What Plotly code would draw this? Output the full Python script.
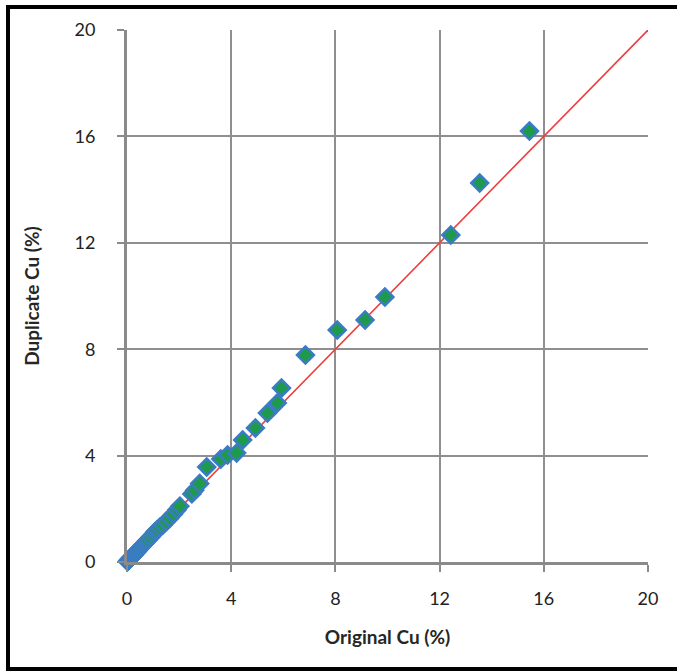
import plotly.graph_objects as go

original_cu = [0.02, 0.03, 0.05, 0.06, 0.08, 0.10, 0.12, 0.15, 0.18, 0.20, 0.24, 0.28, 0.32, 0.36,
               0.42, 0.48, 0.55, 0.61, 0.68, 0.75, 0.80, 0.90, 1.00, 1.07, 1.15, 1.25, 1.38, 1.50,
               1.64, 1.78, 1.92, 2.03, 2.49, 2.60, 2.79, 3.06, 3.60, 3.86, 4.21, 4.44, 4.93, 5.39,
               5.77, 5.93, 6.85, 8.07, 9.14, 9.90, 12.43, 13.54, 15.45]
duplicate_cu = [0.02, 0.04, 0.05, 0.07, 0.08, 0.11, 0.12, 0.16, 0.18, 0.21, 0.25, 0.28, 0.33, 0.37,
                0.43, 0.50, 0.57, 0.64, 0.70, 0.78, 0.83, 0.93, 1.03, 1.13, 1.20, 1.30, 1.39, 1.52,
                1.65, 1.80, 1.96, 2.10, 2.56, 2.70, 2.95, 3.57, 3.87, 4.02, 4.10, 4.59, 5.04, 5.60,
                5.98, 6.54, 7.78, 8.72, 9.10, 9.96, 12.29, 14.25, 16.20]
line_x = [0, 20]
line_y = [0, 20]
tick_vals = [0, 4, 8, 12, 16, 20]

W, H = 677, 671
L, R, T, B = 127, 29, 30, 109
pw, ph = W - L - R, H - T - B

def px(x):
    return (x - L) / pw

def py(y):
    return (H - B - y) / ph

fig = go.Figure()
fig.add_trace(go.Scatter(x=line_x, y=line_y, mode="lines",
                         line=dict(color="#f03c3c", width=1.6), hoverinfo="skip",
                         showlegend=False))
fig.add_trace(go.Scatter(x=original_cu, y=duplicate_cu, mode="markers", cliponaxis=False,
                         marker=dict(symbol="diamond", size=13, color="#1f9a4c",
                                     line=dict(color="#3a7cc4", width=2.5)),
                         showlegend=False))

axis_common = dict(range=[0, 20], tickvals=tick_vals, showgrid=True, gridcolor="#8f8f8f",
                   gridwidth=2, showline=True, linecolor="#8a8a8a", linewidth=3,
                   zeroline=False, ticks="outside", ticklen=7, tickwidth=2,
                   tickcolor="#8a8a8a", tickfont=dict(family="Lato, Open Sans, sans-serif",
                                                      size=18, color="#222222"),
                   fixedrange=True)

fig.update_layout(
    width=W, height=H,
    margin=dict(l=L, r=R, t=T, b=B, pad=0),
    paper_bgcolor="white", plot_bgcolor="white",
    xaxis=dict(axis_common, title=dict(text="<b>Original Cu (%)</b>", standoff=24,
                                        font=dict(family="Lato, Open Sans, sans-serif",
                                                  size=19, color="#262626")),
               ticklabelstandoff=11),
    yaxis=dict(axis_common, title=dict(text="<b>Duplicate Cu (%)</b>", standoff=30,
                                        font=dict(family="Lato, Open Sans, sans-serif",
                                                  size=19, color="#262626")),
               ticklabelstandoff=18),
    shapes=[dict(type="rect", xref="paper", yref="paper",
                 x0=px(8), x1=px(700), y0=py(669), y1=py(7),
                 line=dict(color="black", width=4), layer="above")],
)

fig.write_html("out.html")
